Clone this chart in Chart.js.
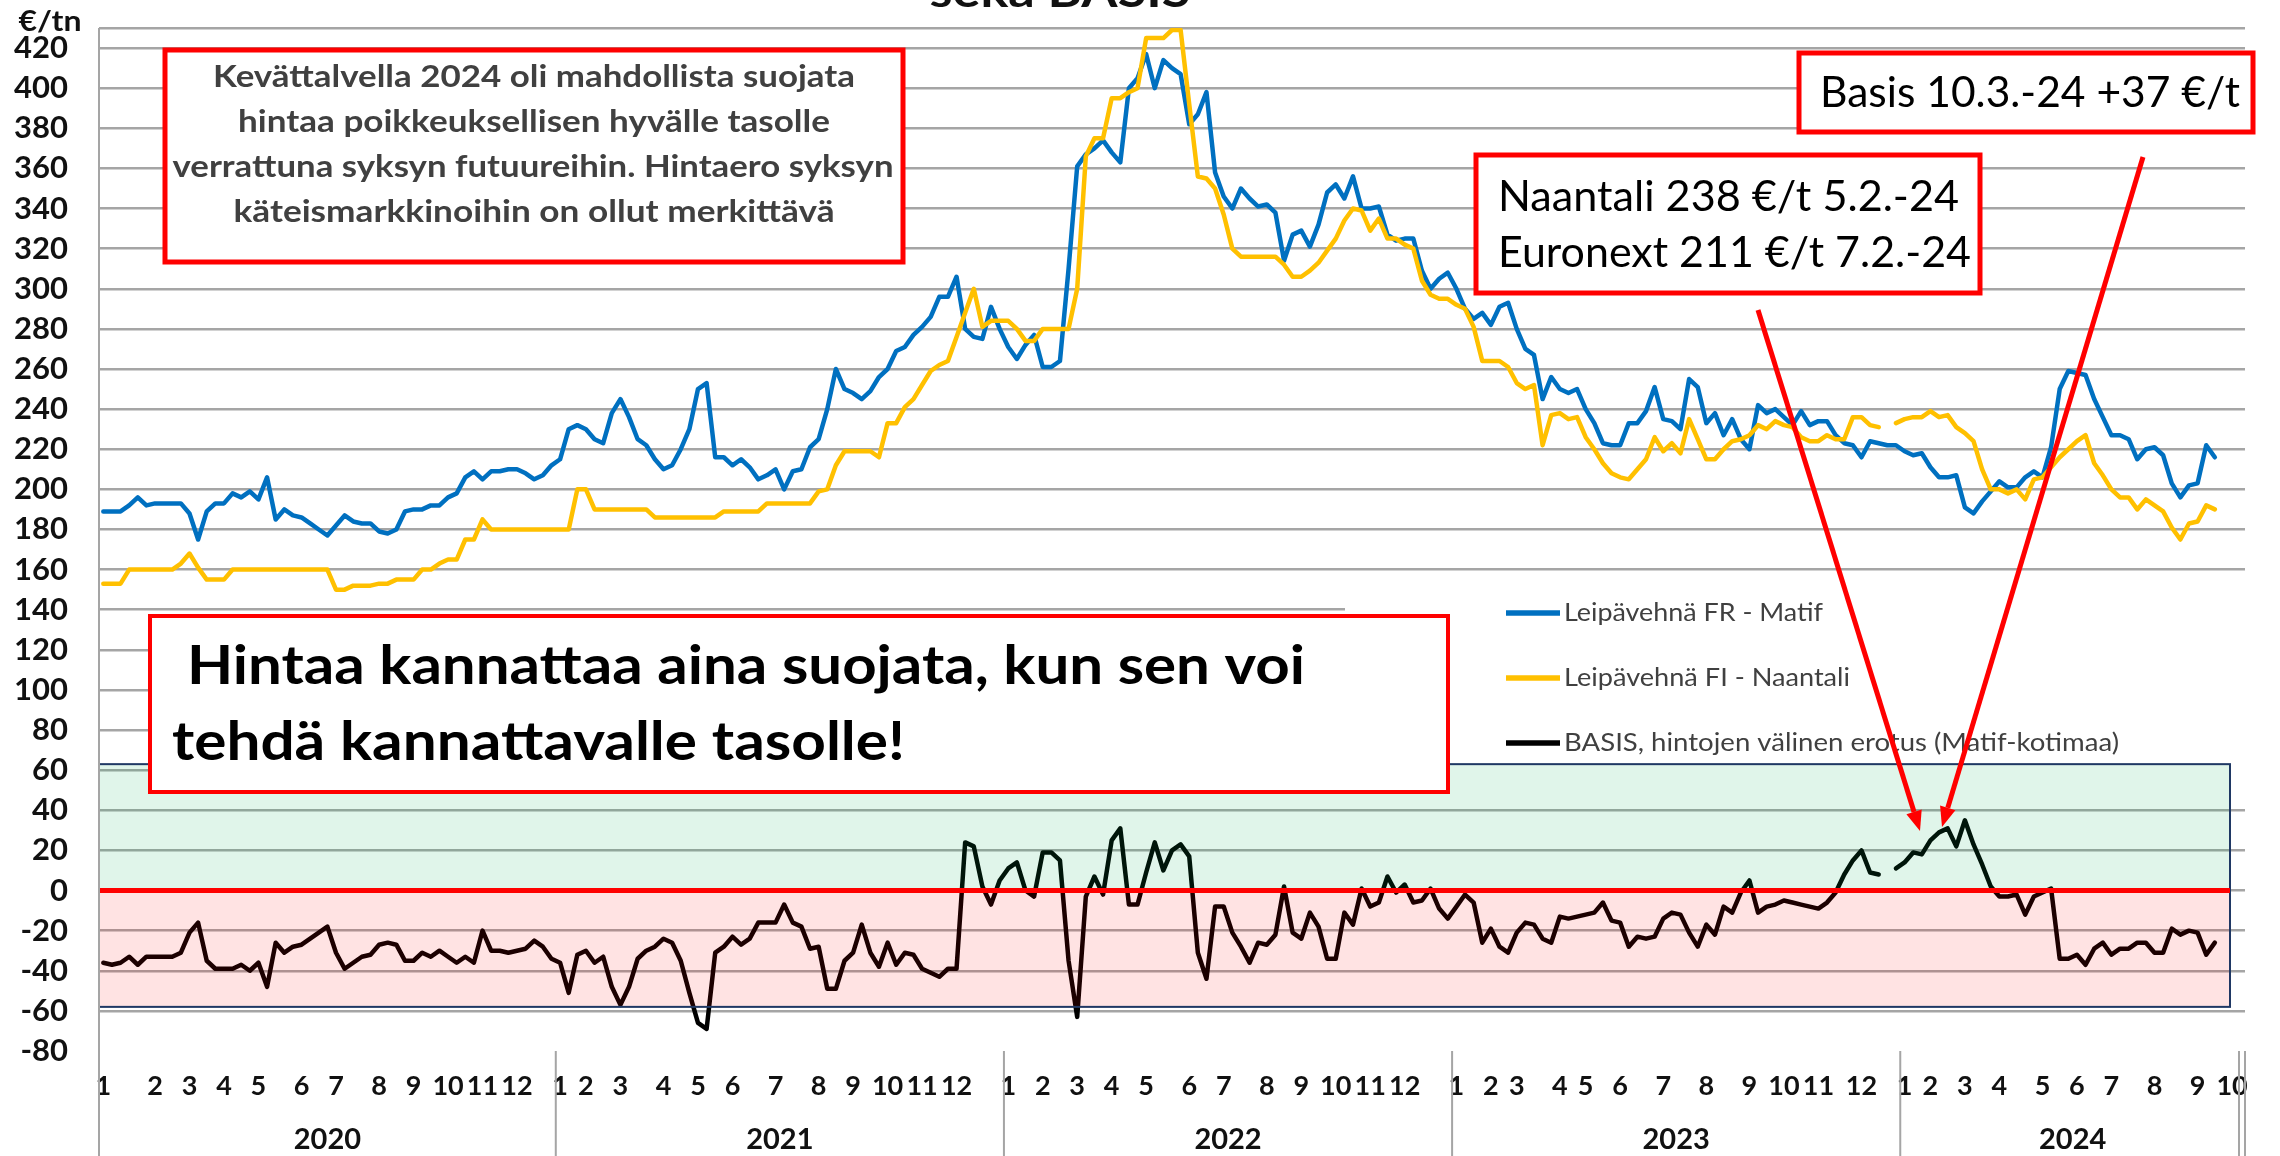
<!DOCTYPE html>
<html>
<head>
<meta charset="utf-8">
<script src="https://cdn.jsdelivr.net/npm/chart.js@4.4.1/dist/chart.umd.min.js"></script>
<style>
  html, body { margin: 0; padding: 0; background: #fff; }
  #wrap { width: 2280px; height: 1156px; position: relative; }
</style>
</head>
<body>
<div id="wrap"><canvas id="kaavio" width="2280" height="1156"></canvas></div>
<script>
// Leipävehnä FR (Matif) vs FI (Naantali) ja BASIS, viikkodata 2020 - 2024
const FONT = 'Lato, "Open Sans", sans-serif';

const yearNames = ['2020', '2021', '2022', '2023', '2024'];
const yearStart = [0, 53, 105, 157, 209];
const weekCount = 249;

// kuukausien tunnukset (viikkoindeksi jossa kuukausi vaihtuu)
const monthTicks2020 = [0, 6, 10, 14, 18, 23, 27, 32, 36, 40, 44, 48];
const monthTicks2021 = [53, 56, 60, 65, 69, 73, 78, 83, 87, 91, 95, 99];
const monthTicks2022 = [105, 109, 113, 117, 121, 126, 130, 135, 139, 143, 147, 151];
const monthTicks2023 = [157, 161, 164, 169, 172, 176, 181, 186, 191, 195, 199, 204];
const monthTicks2024 = [209, 212, 216, 220, 225, 229, 233, 238, 243, 247];

const yTicks = [-80, -60, -40, -20, 0, 20, 40, 60, 80, 100, 120, 140, 160, 180, 200, 220, 240, 260, 280, 300, 320, 340, 360, 380, 400, 420];
const yMin = -80, yMax = 430;

// Leipävehnä FR - Matif (€/t)
const fr2020 = [189,189,189,192,196,192,193,193,193,193,188,175,189,193,193,198,196,199,195,206,185,190,187,186,183,180,177,182,187,184,183,183,179,178,180,189,190,190,192,192,196,198,206,209,205,209,209,210,210,208,205,207,212];
const fr2021 = [215,230,232,230,225,223,238,245,236,225,222,215,210,212,220,230,250,253,216,216,212,215,211,205,207,210,200,209,210,221,225,240,260,250,248,245,249,256,260,269,271,277,281,286,296,296,306,280,276,275,291,280];
const fr2022 = [271,265,272,277,261,261,264,310,361,367,370,374,368,363,400,405,417,400,414,410,407,382,387,398,358,346,340,350,345,341,342,338,314,327,329,321,332,348,352,345,356,340,340,341,327,324,325,325,309,300,305,308];
const fr2023 = [300,290,285,288,282,291,293,280,270,267,245,256,250,248,250,240,233,223,222,222,233,233,239,251,235,234,230,255,251,233,238,227,235,225,220,242,238,240,236,232,239,232,234,234,227,223,222,216,224,223,222,222];
const fr2024 = [219,217,218,211,206,206,207,191,188,194,199,204,201,201,206,209,206,221,250,259,258,257,245,236,227,227,225,215,220,221,217,203,196,202,203,222,216];

// Leipävehnä FI - Naantali (€/t)
const fi2020 = [153,153,153,160,160,160,160,160,160,163,168,161,155,155,155,160,160,160,160,160,160,160,160,160,160,160,160,150,150,152,152,152,153,153,155,155,155,160,160,163,165,165,175,175,185,180,180,180,180,180,180,180,180];
const fi2021 = [180,180,200,200,190,190,190,190,190,190,190,186,186,186,186,186,186,186,186,189,189,189,189,189,193,193,193,193,193,193,199,200,212,219,219,219,219,216,233,233,241,245,252,259,262,264,276,288,300,281,284,284];
const fi2022 = [284,280,274,274,280,280,280,280,300,366,375,375,395,395,398,400,425,425,425,429,429,392,356,355,350,337,320,316,316,316,316,316,312,306,306,309,313,319,325,334,340,339,329,335,325,325,322,320,304,297,295,295];
const fi2023 = [292,290,281,264,264,264,261,253,250,252,222,237,238,235,236,226,220,213,208,206,205,210,215,226,219,223,218,235,225,215,215,220,224,225,227,232,230,234,232,231,226,224,224,227,225,225,236,236,232,231,null,233];
const fi2024 = [235,236,236,239,236,237,231,228,224,210,200,200,198,200,195,205,206,211,216,220,224,227,213,207,200,196,196,190,195,192,189,181,175,183,184,192,190];

// BASIS, hintojen välinen erotus
const basis2020 = [-36,-37,-36,-33,-37,-33,-33,-33,-33,-31,-21,-16,-35,-39,-39,-39,-37,-40,-36,-48,-26,-31,-28,-27,-24,-21,-18,-31,-39,-36,-33,-32,-27,-26,-27,-35,-35,-31,-33,-30,-33,-36,-33,-36,-20,-30,-30,-31,-30,-29,-25,-28,-34];
const basis2021 = [-36,-51,-32,-30,-36,-33,-48,-57,-48,-34,-30,-28,-24,-26,-35,-51,-66,-69,-31,-28,-23,-27,-24,-16,-16,-16,-7,-16,-18,-29,-28,-49,-49,-35,-31,-17,-31,-38,-26,-37,-31,-32,-39,-41,-43,-39,-39,24,22,2,-7,5];
const basis2022 = [11,14,0,-3,19,19,15,-35,-63,-3,7,-2,25,31,-7,-7,9,24,10,20,23,17,-31,-44,-8,-8,-21,-28,-36,-26,-27,-22,2,-21,-24,-11,-18,-34,-34,-11,-17,1,-8,-6,7,-1,3,-6,-5,1,-9,-14];
const basis2023 = [-8,-2,-6,-26,-19,-28,-31,-21,-16,-17,-24,-26,-13,-14,-13,-12,-11,-6,-15,-16,-28,-23,-24,-23,-14,-11,-12,-21,-28,-17,-22,-8,-11,-1,5,-11,-8,-7,-5,-6,-7,-8,-9,-6,-1,8,15,20,9,8,null,11];
const basis2024 = [14,19,18,25,29,31,22,35,23,13,2,-3,-3,-2,-12,-3,-1,1,-34,-34,-32,-37,-29,-26,-32,-29,-29,-26,-26,-31,-31,-19,-22,-20,-21,-32,-26];

const frSeries = [...fr2020, ...fr2021, ...fr2022, ...fr2023, ...fr2024];
const fiSeries = [...fi2020, ...fi2021, ...fi2022, ...fi2023, ...fi2024];
const basisSeries = [...basis2020, ...basis2021, ...basis2022, ...basis2023, ...basis2024];

const legendNames = ['Leipävehnä FR - Matif', 'Leipävehnä FI - Naantali', 'BASIS, hintojen välinen erotus (Matif-kotimaa)'];
const lineColors = ['#0070c0', '#ffc000', '#000000'];

// kategoriat: kuukauden numero vain vaihtoviikolle
const weekLabels = new Array(weekCount).fill('');
[monthTicks2020, monthTicks2021, monthTicks2022, monthTicks2023, monthTicks2024].forEach(list => {
  list.forEach((idx, k) => { weekLabels[idx] = String(k + 1); });
});

function fitText(ctx, text, x, y, width, align) {
  const w = ctx.measureText(text).width;
  ctx.save();
  ctx.translate(x, y);
  ctx.scale(width / w, 1);
  ctx.textAlign = align || 'left';
  ctx.fillText(text, 0, 0);
  ctx.restore();
}

function redBox(ctx, x, y, w, h, lw) {
  ctx.save();
  ctx.fillStyle = '#fff';
  ctx.fillRect(x, y, w, h);
  ctx.strokeStyle = '#ff0000';
  ctx.lineWidth = lw;
  ctx.strokeRect(x, y, w, h);
  ctx.restore();
}

function arrow(ctx, x1, y1, x2, y2) {
  const a = Math.atan2(y2 - y1, x2 - x1), L = 20, W = 8;
  const bx = x2 - L * Math.cos(a), by = y2 - L * Math.sin(a);
  ctx.beginPath();
  ctx.moveTo(x1, y1);
  ctx.lineTo(bx, by);
  ctx.stroke();
  ctx.beginPath();
  ctx.moveTo(x2, y2);
  ctx.lineTo(bx + W * Math.sin(a), by - W * Math.cos(a));
  ctx.lineTo(bx - W * Math.sin(a), by + W * Math.cos(a));
  ctx.closePath();
  ctx.fill();
}

const koristeet = {
  id: 'koristeet',
  afterDatasetsDraw(chart) {
    const ctx = chart.ctx, ca = chart.chartArea, ys = chart.scales.y;
    const cw = (ca.right - ca.left) / weekCount;
    const H = chart.height;
    ctx.save();
    ctx.textBaseline = 'middle';

    // selitelaatikko
    ctx.fillStyle = '#fff';
    ctx.fillRect(1345, 592, ca.right - 1345, 183);
    const legY = [613, 678, 743];
    const legW = [259, 286, 555];
    ctx.font = '25px ' + FONT;
    legendNames.forEach((name, i) => {
      ctx.strokeStyle = lineColors[i];
      ctx.lineWidth = 5.5;
      ctx.beginPath();
      ctx.moveTo(1506, legY[i]);
      ctx.lineTo(1560, legY[i]);
      ctx.stroke();
      ctx.fillStyle = '#404040';
      fitText(ctx, name, 1564, legY[i], legW[i], 'left');
    });

    // vihreä / punainen alue
    const boxRight = ca.right - 15;
    const yTop = ys.getPixelForValue(63), yZero = ys.getPixelForValue(0), yBot = ys.getPixelForValue(-58);
    ctx.fillStyle = 'rgba(0,176,80,0.12)';
    ctx.fillRect(ca.left, yTop, boxRight - ca.left, yZero - yTop);
    ctx.fillStyle = 'rgba(255,0,0,0.11)';
    ctx.fillRect(ca.left, yZero, boxRight - ca.left, yBot - yZero);
    ctx.strokeStyle = '#1f3864';
    ctx.lineWidth = 2;
    ctx.strokeRect(ca.left, yTop, boxRight - ca.left, yBot - yTop);

    // nollaviiva
    ctx.strokeStyle = '#ff0000';
    ctx.lineWidth = 5;
    ctx.beginPath();
    ctx.moveTo(ca.left, yZero);
    ctx.lineTo(boxRight, yZero);
    ctx.stroke();

    // tekstilaatikot
    redBox(ctx, 165, 50, 738, 212, 5);
    ctx.fillStyle = '#404040';
    ctx.font = 'bold 30px ' + FONT;
    fitText(ctx, 'Kevättalvella 2024 oli mahdollista suojata', 534, 77, 642, 'center');
    fitText(ctx, 'hintaa poikkeuksellisen hyvälle tasolle', 534, 122, 592, 'center');
    fitText(ctx, 'verrattuna syksyn futuureihin. Hintaero syksyn', 533, 167, 721, 'center');
    fitText(ctx, 'käteismarkkinoihin on ollut merkittävä', 534, 212, 601, 'center');

    redBox(ctx, 1476, 155, 504, 138, 5);
    ctx.fillStyle = '#000';
    ctx.font = '42px ' + FONT;
    fitText(ctx, 'Naantali 238 €/t 5.2.-24', 1498, 197, 461, 'left');
    fitText(ctx, 'Euronext 211 €/t 7.2.-24', 1498, 253, 473, 'left');

    redBox(ctx, 1799, 53, 454, 79, 5);
    ctx.fillStyle = '#000';
    fitText(ctx, 'Basis 10.3.-24 +37 €/t', 1820, 93, 420, 'left');

    redBox(ctx, 150, 616, 1298, 176, 4);
    ctx.fillStyle = '#000';
    ctx.font = 'bold 53px ' + FONT;
    fitText(ctx, 'Hintaa kannattaa aina suojata, kun sen voi', 187, 667, 1118, 'left');
    fitText(ctx, 'tehdä kannattavalle tasolle!', 172, 743, 733, 'left');

    // nuolet
    ctx.strokeStyle = '#ff0000';
    ctx.fillStyle = '#ff0000';
    ctx.lineWidth = 5;
    arrow(ctx, 1758, 310, 1920, 831);
    arrow(ctx, 2143, 157, 1942, 827);

    // akselit ja vuosijaot
    ctx.strokeStyle = '#a5a5a5';
    ctx.lineWidth = 2;
    ctx.beginPath();
    ctx.moveTo(ca.left, ca.top);
    ctx.lineTo(ca.left, H);
    yearStart.slice(1).forEach(i => {
      const x = ca.left + i * cw;
      ctx.moveTo(x, ca.bottom);
      ctx.lineTo(x, H);
    });
    ctx.moveTo(ca.right, ca.bottom);
    ctx.lineTo(ca.right, H);
    ctx.moveTo(ca.right - 6, ca.bottom);
    ctx.lineTo(ca.right - 6, H);
    ctx.stroke();

    ctx.fillStyle = '#111';
    ctx.font = 'bold 29px ' + FONT;
    ctx.textAlign = 'center';
    yearNames.forEach((name, k) => {
      const s = yearStart[k];
      const e = k + 1 < yearStart.length ? yearStart[k + 1] : weekCount;
      ctx.fillText(name, ca.left + (s + e) / 2 * cw, 1140);
    });

    // yksikkö ja otsikon alareuna
    ctx.font = 'bold 28px ' + FONT;
    fitText(ctx, '€/tn', 50, 22, 63, 'center');
    ctx.textBaseline = 'alphabetic';
    ctx.font = 'bold 44px ' + FONT;
    fitText(ctx, 'sekä BASIS', 1060, 7, 261, 'center');

    ctx.restore();
  }
};

function piirra() {
  new Chart(document.getElementById('kaavio'), {
    type: 'line',
    data: {
      labels: weekLabels,
      datasets: [
        { label: legendNames[0], data: frSeries, borderColor: lineColors[0], order: 2 },
        { label: legendNames[1], data: fiSeries, borderColor: lineColors[1], order: 1 },
        { label: legendNames[2], data: basisSeries, borderColor: lineColors[2], order: 0 }
      ]
    },
    options: {
      responsive: false,
      animation: false,
      devicePixelRatio: 1,
      layout: { padding: { top: 28, right: 35, left: 0, bottom: 0 } },
      plugins: { legend: { display: false }, tooltip: { enabled: false } },
      elements: {
        point: { radius: 0 },
        line: { tension: 0, borderWidth: 4.5, borderJoinStyle: 'round', borderCapStyle: 'round', fill: false }
      },
      scales: {
        x: {
          type: 'category',
          offset: true,
          grid: { display: false, drawTicks: false },
          border: { display: false },
          ticks: {
            autoSkip: false, maxRotation: 0, minRotation: 0, padding: 19,
            color: '#111', font: { family: FONT, size: 27, weight: 'bold' }
          },
          afterFit: s => { s.height = 105; s.paddingLeft = 0; s.paddingRight = 0; }
        },
        y: {
          min: yMin,
          max: yMax,
          grid: {
            color: c => (c.tick && c.tick.value === yMin) ? 'rgba(0,0,0,0)' : '#a5a5a5',
            lineWidth: 2.5,
            drawTicks: false
          },
          border: { display: false },
          afterBuildTicks: s => { s.ticks = yTicks.concat([yMax]).map(v => ({ value: v })); },
          ticks: {
            autoSkip: false,
            padding: 31,
            color: '#111',
            font: { family: FONT, size: 31, weight: 'bold', lineHeight: 1 },
            callback: v => (v === yMax ? '' : String(v))
          },
          afterFit: s => { s.width = 99; s.paddingTop = 0; s.paddingBottom = 0; }
        }
      }
    },
    plugins: [koristeet]
  });
}

if (document.fonts && document.fonts.load) {
  Promise.all([
    document.fonts.load('bold 28px Lato'),
    document.fonts.load('28px Lato')
  ]).then(piirra, piirra);
} else {
  piirra();
}
</script>
</body>
</html>
